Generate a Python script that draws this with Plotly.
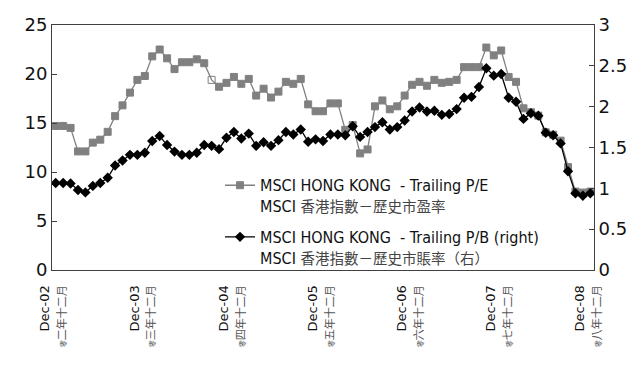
import plotly.graph_objects as go

months = list(range(73))
tick_idx = [0, 12, 24, 36, 48, 60, 72]
tick_en = ["Dec-02", "Dec-03", "Dec-04", "Dec-05", "Dec-06", "Dec-07", "Dec-08"]
tick_zh_num = ["二", "三", "四", "五", "六", "七", "八"]

pe = [14.7, 14.7, 14.5, 12.1, 12.1, 13.0, 13.3, 14.1, 15.7, 16.8, 18.1, 19.4,
      19.8, 21.8, 22.5, 21.6, 20.5, 21.2, 21.2, 21.5, 21.1, 19.4, 18.7, 19.1,
      19.7, 19.0, 19.5, 17.8, 18.5, 17.6, 18.2, 19.2, 19.0, 19.5, 16.9, 16.2,
      16.2, 17.0, 17.0, 14.3, 14.8, 11.9, 12.3, 16.7, 17.3, 16.4, 16.7, 17.8,
      18.9, 19.2, 18.8, 19.4, 19.1, 19.2, 19.4, 20.7, 20.7, 20.7, 22.7, 21.9,
      22.4, 19.7, 19.2, 16.5, 16.1, 15.75, 14.05, 13.8, 13.2, 10.5, 8.0, 7.9, 8.0]

pb = [1.065, 1.065, 1.06, 0.98, 0.95, 1.03, 1.065, 1.13, 1.28, 1.34, 1.41, 1.41,
      1.435, 1.58, 1.64, 1.53, 1.45, 1.41, 1.41, 1.435, 1.53, 1.52, 1.48, 1.62,
      1.69, 1.61, 1.67, 1.52, 1.565, 1.52, 1.59, 1.69, 1.66, 1.72, 1.57, 1.60,
      1.58, 1.66, 1.66, 1.65, 1.76, 1.63, 1.69, 1.75, 1.81, 1.72, 1.75, 1.83,
      1.94, 1.99, 1.94, 1.95, 1.90, 1.91, 1.97, 2.11, 2.12, 2.24, 2.47, 2.38,
      2.40, 2.11, 2.06, 1.85, 1.92, 1.89, 1.68, 1.65, 1.55, 1.21, 0.94, 0.91, 0.94]

hollow_point = 21
pe_symbols = ["square-open" if i == hollow_point else "square" for i in months]

tick_labels = [
    f'{en}<br><span style="font-size:11px;color:#555555">'
    f'<span style="font-size:7px">零</span>{zh}年十二月</span>'
    for en, zh in zip(tick_en, tick_zh_num)
]

zh_style = 'style="color:#444444;font-size:14.5px"'
name_pe = f'MSCI HONG KONG  - Trailing P/E<br>MSCI <span {zh_style}>香港指數－歷史市盈率</span>'
name_pb = f'MSCI HONG KONG  - Trailing P/B (right)<br>MSCI <span {zh_style}>香港指數－歷史市賬率（右）</span>'

fig = go.Figure()
fig.add_trace(go.Scatter(
    x=months, y=pe, name=name_pe, mode="lines+markers", legendgroup="pe",
    line=dict(color="#808080", width=1.3),
    marker=dict(symbol=pe_symbols, size=7, color="#808080",
                line=dict(color="#808080", width=1)),
    yaxis="y"))
fig.add_trace(go.Scatter(
    x=months, y=pb, name=name_pb, mode="lines+markers", legendgroup="pb",
    line=dict(color="#000000", width=1.3),
    marker=dict(symbol="diamond", size=8, color="#000000"),
    yaxis="y2"))

axis_font = dict(family="DejaVu Sans", size=18, color="#111111")
fig.update_layout(
    width=634, height=357,
    margin=dict(l=44, r=48, t=17, b=95, autoexpand=False),
    paper_bgcolor="white", plot_bgcolor="white",
    showlegend=True,
    legend=dict(x=0.31, y=0.415, xanchor="left", yanchor="top",
                bgcolor="rgba(255,255,255,0)", borderwidth=0,
                font=dict(family="DejaVu Sans Condensed, Noto Sans CJK TC", size=16, color="#111111"),
                valign="top", itemwidth=30, tracegroupgap=7),
    xaxis=dict(range=[-0.5, 72.5], tickmode="array", tickvals=tick_idx, ticktext=tick_labels,
               tickangle=-90, showgrid=False, zeroline=False, showline=True,
               linecolor="#404040", linewidth=1, mirror=True, ticks="", automargin=False,
               ticklabelshift=-2, ticklabelstandoff=9,
               tickfont=dict(family="DejaVu Sans, Noto Sans CJK TC", size=13, color="#111111")),
    yaxis=dict(range=[0, 25], tick0=0, dtick=5, showgrid=False, zeroline=False,
               showline=True, linecolor="#404040", linewidth=1, mirror=True, automargin=False,
               ticks="inside", ticklen=5, tickcolor="#404040", tickfont=axis_font),
    yaxis2=dict(range=[0, 3], tick0=0, dtick=0.5, overlaying="y", side="right",
                showgrid=False, zeroline=False, showline=True, linecolor="#404040",
                linewidth=1, ticks="inside", ticklen=5, tickcolor="#404040", automargin=False,
                tickfont=axis_font),
)

fig.write_html("out.html")
